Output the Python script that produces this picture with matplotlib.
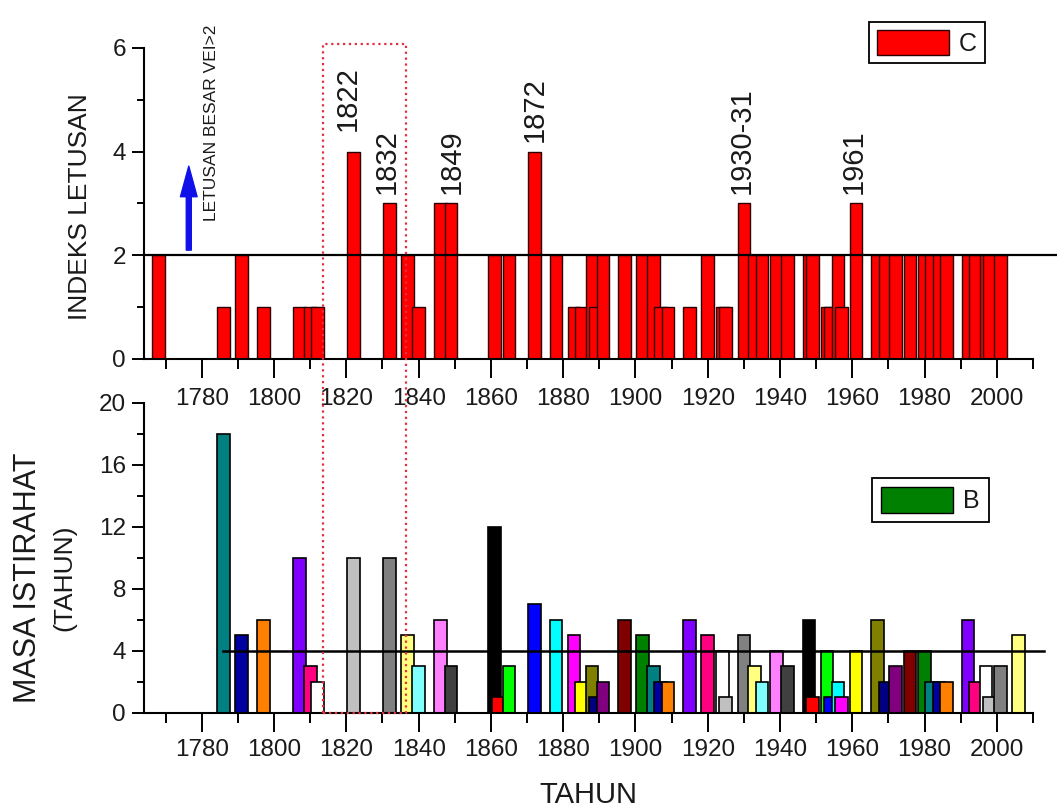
import matplotlib
matplotlib.use('Agg')
import matplotlib.pyplot as plt
from matplotlib.patches import Patch
from matplotlib.lines import Line2D
from matplotlib.ticker import MultipleLocator

plt.rcParams['font.family'] = ['Liberation Sans', 'DejaVu Sans']

# eruption index per year (top panel)
erupt_years = [1768, 1786, 1791, 1797, 1807, 1810, 1812, 1822, 1832, 1837, 1840, 1846, 1849,
               1861, 1865, 1872, 1878, 1883, 1885, 1888, 1889, 1891, 1897, 1902, 1905, 1907,
               1909, 1915, 1920, 1924, 1925, 1930, 1933, 1935, 1939, 1942, 1948, 1949, 1953,
               1954, 1956, 1957, 1961, 1967, 1969, 1972, 1976, 1980, 1982, 1984, 1986, 1992,
               1994, 1997, 1998, 2001]
erupt_index = [2, 1, 2, 1, 1, 1, 1, 4, 3, 2, 1, 3, 3,
               2, 2, 4, 2, 1, 1, 2, 1, 2, 2, 2, 2, 1,
               1, 1, 2, 1, 1, 3, 2, 2, 2, 2, 2, 2, 1,
               1, 2, 1, 3, 2, 2, 2, 2, 2, 2, 2, 2, 2,
               2, 2, 2, 2]

# rest period before each eruption (bottom panel)
rest_years = [1786, 1791, 1797, 1807, 1810, 1812, 1822, 1832, 1837, 1840, 1846, 1849, 1861,
              1862, 1865, 1872, 1878, 1883, 1885, 1888, 1889, 1891, 1897, 1902, 1905, 1907,
              1909, 1915, 1920, 1924, 1925, 1930, 1933, 1935, 1939, 1942, 1948, 1949, 1953,
              1954, 1956, 1957, 1961, 1967, 1969, 1972, 1976, 1980, 1982, 1984, 1986, 1992,
              1994, 1997, 1998, 2001, 2006]
rest_length = [18, 5, 6, 10, 3, 2, 10, 10, 5, 3, 6, 3, 12,
               1, 3, 7, 6, 5, 2, 3, 1, 2, 6, 5, 3, 2,
               2, 6, 5, 4, 1, 5, 3, 2, 4, 3, 6, 1, 4,
               1, 2, 1, 4, 6, 2, 3, 4, 4, 2, 2, 2, 6,
               2, 3, 1, 3, 5]

# big eruptions that get a year label
big_labels = ['1822', '1832', '1849', '1872', '1930-31', '1961']
big_years = [1820.5, 1831.3, 1849.3, 1872.2, 1929.3, 1960.4]
big_index = [4, 3, 3, 4, 3, 3]

vei_limit = 2
mean_rest = 4
highlight_years = [1813.6, 1836.4]

x_ticks = [1780, 1800, 1820, 1840, 1860, 1880, 1900, 1920, 1940, 1960, 1980, 2000]

# Origin default colour list
origin_colors = ['#000000', '#ff0000', '#00ff00', '#0000ff', '#00ffff', '#ff00ff',
                 '#ffff00', '#808000', '#000080', '#800080', '#800000', '#008000',
                 '#008080', '#0000a0', '#ff8000', '#8000ff', '#ff0080', '#ffffff',
                 '#c0c0c0', '#808080', '#ffff80', '#80ffff', '#ff80ff', '#404040']
bar_colors = [origin_colors[(12 + i) % 24] for i in range(len(rest_years))]

fig = plt.figure(figsize=(10.57, 8.10), dpi=100)
ax2 = fig.add_axes([0.1362, 0.1198, 0.8411, 0.3827])
ax1 = fig.add_axes([0.1362, 0.5568, 0.8411, 0.3840])
ax1.set_facecolor('none')
ax2.set_facecolor('none')

bar_w = 3.5
ax1.bar(erupt_years, erupt_index, width=bar_w, color='#ff0000', edgecolor='#2a0000',
        linewidth=1.0)
ax2.bar(rest_years, rest_length, width=bar_w, color=bar_colors, edgecolor='black',
        linewidth=1.2)

for ax in (ax1, ax2):
    ax.set_xlim(1764, 2010)
    ax.spines['top'].set_visible(False)
    ax.spines['right'].set_visible(False)
    ax.spines['left'].set_linewidth(1.5)
    ax.spines['bottom'].set_linewidth(1.5)
    ax.set_xticks(x_ticks)
    ax.xaxis.set_minor_locator(MultipleLocator(10))
    ax.tick_params(axis='both', which='major', direction='out', labelsize=17.5, width=1.4,
                   labelcolor='#1a1a1a')
    ax.tick_params(axis='both', which='minor', direction='out', width=1.4)
    ax.tick_params(axis='x', which='major', length=14, pad=5)
    ax.tick_params(axis='x', which='minor', length=7)
    ax.tick_params(axis='y', which='major', length=9, pad=4)
    ax.tick_params(axis='y', which='minor', length=5)

ax1.set_ylim(0, 6)
ax1.set_yticks([0, 2, 4, 6])
ax1.yaxis.set_minor_locator(MultipleLocator(1))
ax1.tick_params(axis='x', which='major', pad=7)
ax2.set_ylim(0, 20)
ax2.set_yticks([0, 4, 8, 12, 16, 20])
ax2.yaxis.set_minor_locator(MultipleLocator(2))

# reference lines
ax1.plot([1764, 2016.6], [vei_limit, vei_limit], color='black', lw=1.6, clip_on=False,
         zorder=5)
ax2.plot([1786, 2013], [mean_rest, mean_rest], color='black', lw=1.8, clip_on=False,
         zorder=5)

# year labels above big eruptions
for txt, yr, v in zip(big_labels, big_years, big_index):
    off = 0.4 if txt == '1822' else 0.18
    ax1.text(yr, v + off, txt, rotation=90, ha='center', va='bottom', fontsize=21,
             color='#1a1a1a')

# arrow and note for VEI > 2
ax1.annotate('', xy=(1776.4, 3.72), xytext=(1776.4, 2.1),
             arrowprops=dict(facecolor='#1010e8', edgecolor='#1010e8', width=3.6,
                             headwidth=12, headlength=22, shrink=0))
ax1.text(1782.8, 2.66, 'LETUSAN BESAR VEI>2', rotation=90, ha='center', va='bottom',
         fontsize=12.5, color='#1a1a1a')

# legends
leg1 = ax1.legend(handles=[Patch(facecolor='#ff0000', edgecolor='#2a0000')], labels=['C'],
                  loc='upper left', bbox_to_anchor=(869 / 1057, 1 - 22 / 810),
                  bbox_transform=fig.transFigure, fontsize=18, handlelength=2.9,
                  handleheight=1.2, handletextpad=0.4, borderpad=0.3, borderaxespad=0,
                  fancybox=False, framealpha=1)
leg2 = ax2.legend(handles=[Patch(facecolor='#008000', edgecolor='black')], labels=['B'],
                  loc='upper left', bbox_to_anchor=(872 / 1057, 1 - 478 / 810),
                  bbox_transform=fig.transFigure, fontsize=18, handlelength=2.9,
                  handleheight=1.25, handletextpad=0.4, borderpad=0.35, borderaxespad=0,
                  fancybox=False, framealpha=1)
for leg in (leg1, leg2):
    leg.get_frame().set_edgecolor('black')
    leg.get_frame().set_linewidth(1.3)
    for t in leg.get_texts():
        t.set_color('#1a1a1a')

# axis titles
fig.text(80 / 1057, 1 - 207 / 810, 'INDEKS LETUSAN', rotation=90, ha='center', va='center',
         fontsize=19, color='#1a1a1a')
fig.text(28 / 1057, 1 - 578 / 810, 'MASA ISTIRAHAT', rotation=90, ha='center', va='center',
         fontsize=22, color='#1a1a1a')
fig.text(64 / 1057, 1 - 578 / 810, '(TAHUN)', rotation=90, ha='center', va='center',
         fontsize=19, color='#1a1a1a')
fig.text(588 / 1057, 1 - 795 / 810, 'TAHUN', ha='center', va='center', fontsize=21,
         color='#1a1a1a')

# dotted box spanning both panels around 1822-1832
inv = fig.transFigure.inverted()
x0, x1 = highlight_years
tl = inv.transform(ax1.transData.transform((x0, 6.08)))
tr = inv.transform(ax1.transData.transform((x1, 6.08)))
bl = inv.transform(ax2.transData.transform((x0, 0)))
br = inv.transform(ax2.transData.transform((x1, 0)))
fig.add_artist(Line2D([bl[0], tl[0], tr[0], br[0], bl[0]],
                      [bl[1], tl[1], tr[1], br[1], bl[1]],
                      transform=fig.transFigure, color='#e03040', lw=1.6,
                      linestyle=':', zorder=10))

fig.savefig('out.png', dpi=100)
